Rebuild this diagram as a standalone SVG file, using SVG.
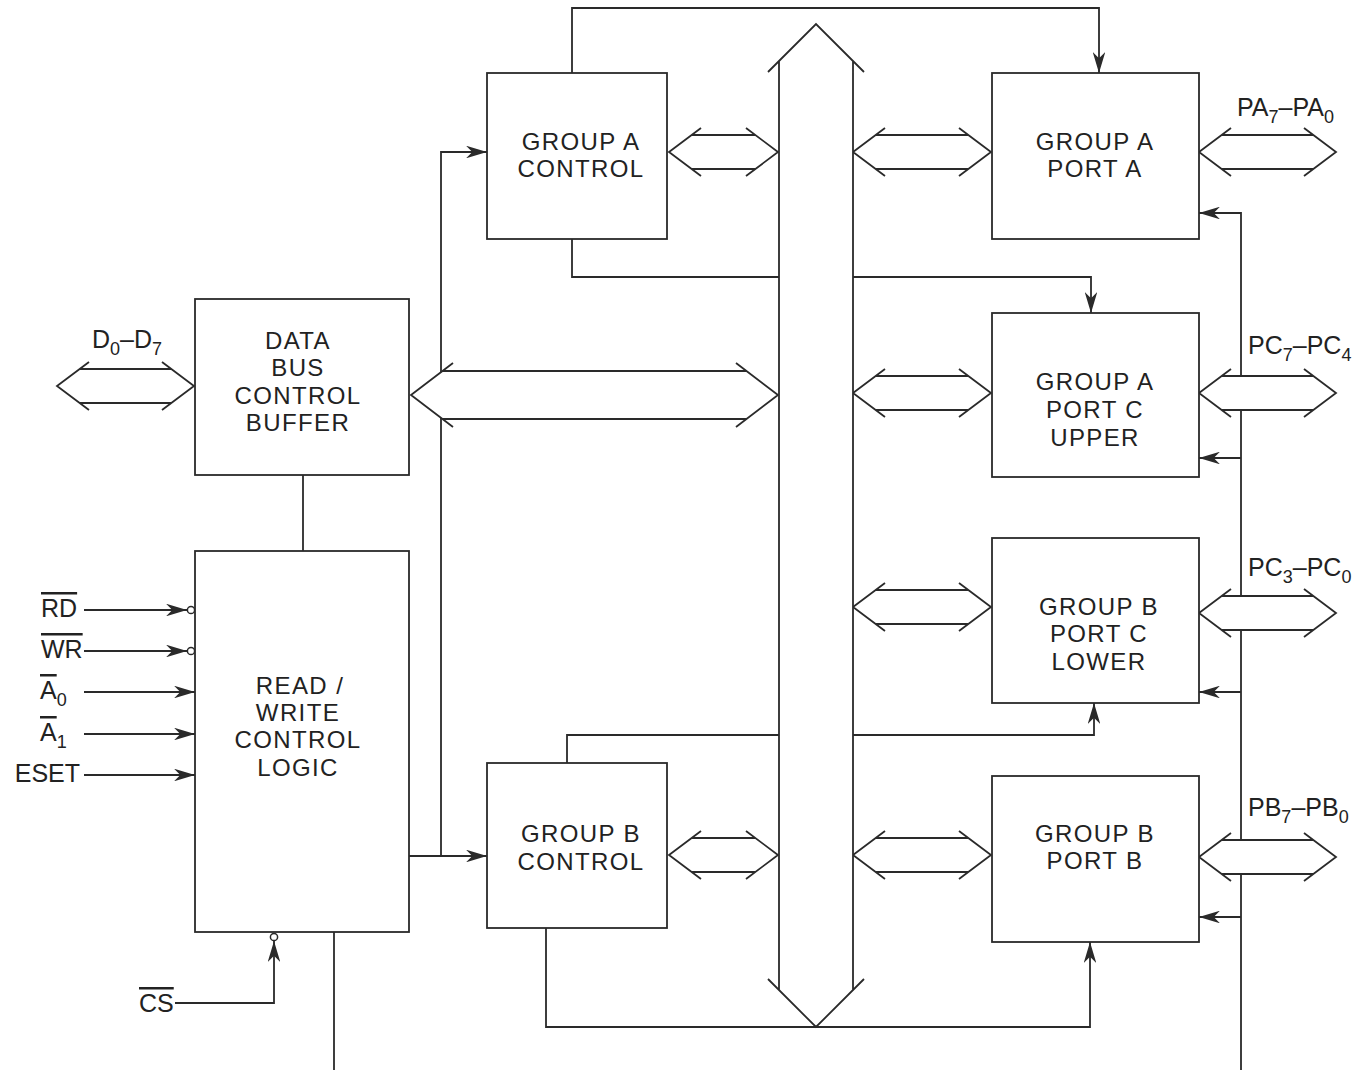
<svg xmlns="http://www.w3.org/2000/svg" width="1355" height="1070" viewBox="0 0 1355 1070">
<defs>
<marker id="ah" markerUnits="userSpaceOnUse" viewBox="0 0 20 12" refX="20" refY="6" markerWidth="21" markerHeight="12.6" orient="auto">
<path d="M0,0 L20,6 L0,12 L6,6 Z" fill="#2a2a2a"/>
</marker>
</defs>
<style>
.box{fill:#fff;stroke:#2a2a2a;stroke-width:1.8}
.ln{fill:none;stroke:#2a2a2a;stroke-width:1.8}
.bf{fill:#fff;stroke:none}
.lb{font-family:"Liberation Sans",Arial,sans-serif;font-size:24px;letter-spacing:1.4px;fill:#222;text-anchor:middle}
.sig{font-family:"Liberation Sans",Arial,sans-serif;font-size:25px;fill:#222}
.sub{font-size:18px}
.ov{text-decoration:overline}
.dot{fill:#fff;stroke:#2a2a2a;stroke-width:1.5}
</style>
<rect width="1355" height="1070" fill="#fff"/>

<g id="connectors">
<path class="ln" d="M572,73 V8 H1099 V73" marker-end="url(#ah)"/>
<path class="ln" d="M572,239 V277 H1091 V313" marker-end="url(#ah)"/>
<path class="ln" d="M567,763 V735 H1094 V703" marker-end="url(#ah)"/>
<path class="ln" d="M546,928 V1027 H1090 V942" marker-end="url(#ah)"/>
<path class="ln" d="M303,475 V551"/>
<path class="ln" d="M409,856 H441 V152 H487" marker-end="url(#ah)"/>
<path class="ln" d="M441,856 H487" marker-end="url(#ah)"/>
<path class="ln" d="M334,932 V1070"/>
<path class="ln" d="M175,1003 H274 V941" marker-end="url(#ah)"/>
<path class="ln" d="M1241,1070 V213 H1199" marker-end="url(#ah)"/>
<path class="ln" d="M1241,458 H1199" marker-end="url(#ah)"/>
<path class="ln" d="M1241,692 H1199" marker-end="url(#ah)"/>
<path class="ln" d="M1241,917 H1199" marker-end="url(#ah)"/>
<path class="ln" d="M84,610 H187" marker-end="url(#ah)"/>
<path class="ln" d="M84,651 H187" marker-end="url(#ah)"/>
<path class="ln" d="M84,692 H195" marker-end="url(#ah)"/>
<path class="ln" d="M84,734 H195" marker-end="url(#ah)"/>
<path class="ln" d="M84,775 H195" marker-end="url(#ah)"/>

<g id="bus-d">
<polygon class="bf" points="57,386 79.7,369 171.3,369 194,386 171.3,403 79.7,403"/>
<path class="ln" d="M89,362 L57,386 L89,410 M162,362 L194,386 L162,410 M79.7,369 H171.3 M79.7,403 H171.3"/>
</g>
<g id="bus-gac">
<polygon class="bf" points="669,152 691.7,135 755.3,135 778,152 755.3,169 691.7,169"/>
<path class="ln" d="M701,128 L669,152 L701,176 M746,128 L778,152 L746,176 M691.7,135 H755.3 M691.7,169 H755.3"/>
</g>
<g id="bus-pa-in">
<polygon class="bf" points="853,152 875.7,135 968.3,135 991,152 968.3,169 875.7,169"/>
<path class="ln" d="M885,128 L853,152 L885,176 M959,128 L991,152 L959,176 M875.7,135 H968.3 M875.7,169 H968.3"/>
</g>
<g id="bus-pa-out">
<polygon class="bf" points="1199,152 1221.7,135 1313.3,135 1336,152 1313.3,169 1221.7,169"/>
<path class="ln" d="M1231,128 L1199,152 L1231,176 M1304,128 L1336,152 L1304,176 M1221.7,135 H1313.3 M1221.7,169 H1313.3"/>
</g>
<g id="bus-pcu-in">
<polygon class="bf" points="853,393 875.7,376 968.3,376 991,393 968.3,410 875.7,410"/>
<path class="ln" d="M885,369 L853,393 L885,417 M959,369 L991,393 L959,417 M875.7,376 H968.3 M875.7,410 H968.3"/>
</g>
<g id="bus-pcu-out">
<polygon class="bf" points="1199,393 1221.7,376 1313.3,376 1336,393 1313.3,410 1221.7,410"/>
<path class="ln" d="M1231,369 L1199,393 L1231,417 M1304,369 L1336,393 L1304,417 M1221.7,376 H1313.3 M1221.7,410 H1313.3"/>
</g>
<g id="bus-pcl-in">
<polygon class="bf" points="853,607 875.7,590 968.3,590 991,607 968.3,624 875.7,624"/>
<path class="ln" d="M885,583 L853,607 L885,631 M959,583 L991,607 L959,631 M875.7,590 H968.3 M875.7,624 H968.3"/>
</g>
<g id="bus-pcl-out">
<polygon class="bf" points="1199,613 1221.7,596 1313.3,596 1336,613 1313.3,630 1221.7,630"/>
<path class="ln" d="M1231,589 L1199,613 L1231,637 M1304,589 L1336,613 L1304,637 M1221.7,596 H1313.3 M1221.7,630 H1313.3"/>
</g>
<g id="bus-gbc">
<polygon class="bf" points="669,855 691.7,838 755.3,838 778,855 755.3,872 691.7,872"/>
<path class="ln" d="M701,831 L669,855 L701,879 M746,831 L778,855 L746,879 M691.7,838 H755.3 M691.7,872 H755.3"/>
</g>
<g id="bus-pb-in">
<polygon class="bf" points="853,855 875.7,838 968.3,838 991,855 968.3,872 875.7,872"/>
<path class="ln" d="M885,831 L853,855 L885,879 M959,831 L991,855 L959,879 M875.7,838 H968.3 M875.7,872 H968.3"/>
</g>
<g id="bus-pb-out">
<polygon class="bf" points="1199,857 1221.7,840 1313.3,840 1336,857 1313.3,874 1221.7,874"/>
<path class="ln" d="M1231,833 L1199,857 L1231,881 M1304,833 L1336,857 L1304,881 M1221.7,840 H1313.3 M1221.7,874 H1313.3"/>
</g>
<g id="bus-data">
<polygon class="bf" points="411,395 442.5,371 746.5,371 778,395 746.5,419 442.5,419"/>
<path class="ln" d="M453,363 L411,395 L453,427 M736,363 L778,395 L736,427 M442.5,371 H746.5 M442.5,419 H746.5"/>
</g>
<g id="bus-internal">
<polygon class="bf" points="816,24 853,61 853,990 816,1027 779,990 779,61"/>
<path class="ln" d="M768,72 L816,24 L864,72 M768,979 L816,1027 L864,979 M779,61 V990 M853,61 V990"/>
</g>
<circle class="dot" cx="191" cy="610" r="3.6"/>
<circle class="dot" cx="191" cy="651" r="3.6"/>
<circle class="dot" cx="274" cy="937" r="3.6"/>
</g>

<g id="dbcb">
<rect class="box" x="195" y="299" width="214" height="176"/>
<text class="lb" x="298" y="349">DATA</text>
<text class="lb" x="298" y="376">BUS</text>
<text class="lb" x="298" y="404">CONTROL</text>
<text class="lb" x="298" y="431">BUFFER</text>
</g>
<g id="rwlogic">
<rect class="box" x="195" y="551" width="214" height="381"/>
<text class="lb" x="300" y="694">READ /</text>
<text class="lb" x="298" y="721">WRITE</text>
<text class="lb" x="298" y="748">CONTROL</text>
<text class="lb" x="298" y="776">LOGIC</text>
</g>
<g id="gactrl">
<rect class="box" x="487" y="73" width="180" height="166"/>
<text class="lb" x="581" y="150">GROUP A</text>
<text class="lb" x="581" y="177">CONTROL</text>
</g>
<g id="gbctrl">
<rect class="box" x="487" y="763" width="180" height="165"/>
<text class="lb" x="581" y="842">GROUP B</text>
<text class="lb" x="581" y="870">CONTROL</text>
</g>
<g id="porta">
<rect class="box" x="992" y="73" width="207" height="166"/>
<text class="lb" x="1095" y="150">GROUP A</text>
<text class="lb" x="1095" y="177">PORT A</text>
</g>
<g id="portcu">
<rect class="box" x="992" y="313" width="207" height="164"/>
<text class="lb" x="1095" y="390">GROUP A</text>
<text class="lb" x="1095" y="418">PORT C</text>
<text class="lb" x="1095" y="446">UPPER</text>
</g>
<g id="portcl">
<rect class="box" x="992" y="538" width="207" height="165"/>
<text class="lb" x="1099" y="615">GROUP B</text>
<text class="lb" x="1099" y="642">PORT C</text>
<text class="lb" x="1099" y="670">LOWER</text>
</g>
<g id="portb">
<rect class="box" x="992" y="776" width="207" height="166"/>
<text class="lb" x="1095" y="842">GROUP B</text>
<text class="lb" x="1095" y="869">PORT B</text>
</g>

<g id="signals">
<text class="sig" x="92" y="348">D<tspan class="sub" dy="7">0</tspan><tspan dy="-7">–D</tspan><tspan class="sub" dy="7">7</tspan></text>
<text class="sig" x="1237" y="116">PA<tspan class="sub" dy="7">7</tspan><tspan dy="-7">–PA</tspan><tspan class="sub" dy="7">0</tspan></text>
<text class="sig" x="1248" y="354">PC<tspan class="sub" dy="7">7</tspan><tspan dy="-7">–PC</tspan><tspan class="sub" dy="7">4</tspan></text>
<text class="sig" x="1248" y="576">PC<tspan class="sub" dy="7">3</tspan><tspan dy="-7">–PC</tspan><tspan class="sub" dy="7">0</tspan></text>
<text class="sig" x="1248" y="816">PB<tspan class="sub" dy="7">7</tspan><tspan dy="-7">–PB</tspan><tspan class="sub" dy="7">0</tspan></text>
<text class="sig" x="41" y="617"><tspan class="ov">RD</tspan></text>
<text class="sig" x="41" y="658"><tspan class="ov">WR</tspan></text>
<text class="sig" x="40" y="699"><tspan class="ov">A</tspan><tspan class="sub" dy="7">0</tspan></text>
<text class="sig" x="40" y="741"><tspan class="ov">A</tspan><tspan class="sub" dy="7">1</tspan></text>
<text class="sig" x="80" y="782" text-anchor="end">ESET</text>
<text class="sig" x="139" y="1012"><tspan class="ov">CS</tspan></text>
</g>
</svg>
